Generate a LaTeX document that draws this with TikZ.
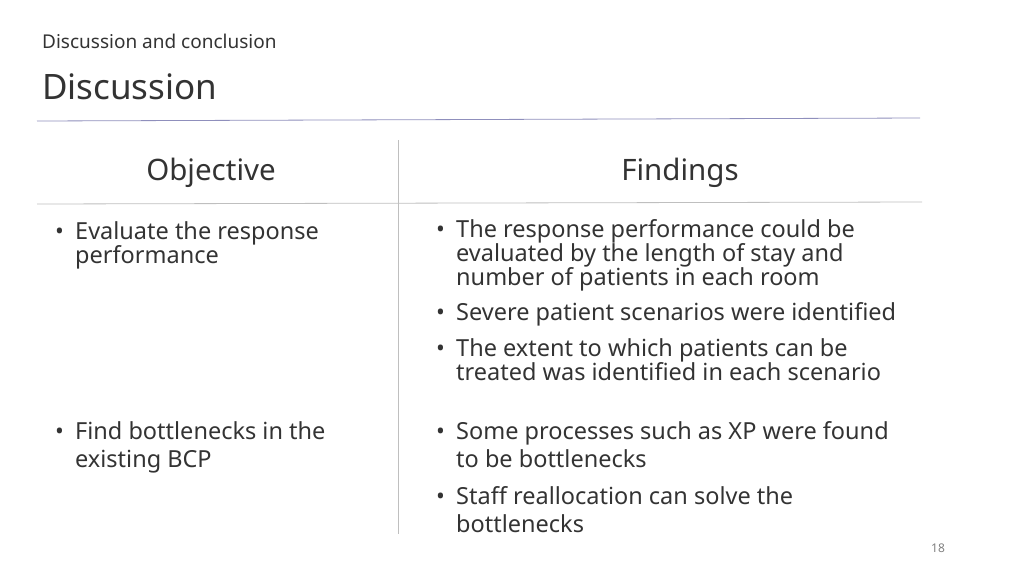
\documentclass[tikz,border=0pt]{standalone}
\usepackage{fontspec}
\setmainfont{Noto Sans}
\begin{document}
\begin{tikzpicture}[x=1pt,y=-1pt,
  txt/.style={anchor=base west,inner sep=0pt,text=black!80,font=\fontsize{23.5}{24}\selectfont,align=left},
  bul/.style={anchor=base west,inner sep=0pt,text=black!80,font=\fontsize{23.5}{24}\selectfont}]
\useasboundingbox (0,0) rectangle (1024,576);
\node[anchor=base west,inner sep=0pt,text=black!80,font=\fontsize{19}{20}\selectfont] (sec) at (42,48) {Discussion and conclusion};
\node[anchor=base west,inner sep=0pt,text=black!80,font=\fontsize{35}{38}\selectfont] (ttl) at (42,99) {Discussion};
\coordinate (l1a) at (37,121); \coordinate (l1b) at (920,118);
\draw[color=blue!25!gray!70,line width=0.8pt] (l1a) -- (l1b);
\coordinate (l2a) at (37,204); \coordinate (l2b) at (922,202);
\draw[color=gray!50,line width=0.8pt] (l2a) -- (l2b);
\coordinate (va) at (398,140); \coordinate (vb) at (398,534);
\draw[color=gray!50,line width=0.8pt] (va) -- (vb);
\node[inner sep=0pt,text=black!80,font=\fontsize{29.5}{30}\selectfont] (h1) at (211,173) {Objective};
\node[inner sep=0pt,text=black!80,font=\fontsize{29.5}{30}\selectfont] (h2) at (680,173) {Findings};
% objective bullets
\node[bul] (b1) at (55,239) {•};
\node[txt] (o1) at (75,263) {Evaluate the response\\performance};
\node[bul] (b2) at (55,439) {•};
\node[txt,font=\fontsize{23.5}{28}\selectfont] (o2) at (75,467) {Find bottlenecks in the\\existing BCP};
% findings
\node[bul] (c1) at (436,237) {•};
\node[txt] (f1) at (456,285) {The response performance could be\\evaluated by the length of stay and\\number of patients in each room};
\node[bul] (c2) at (436,320) {•};
\node[txt] (f2) at (456,320) {Severe patient scenarios were identified};
\node[bul] (c3) at (436,356) {•};
\node[txt] (f3) at (456,380) {The extent to which patients can be\\treated was identified in each scenario};
\node[bul] (c4) at (436,439) {•};
\node[txt,font=\fontsize{23.5}{28}\selectfont] (f4) at (456,467) {Some processes such as XP were found\\to be bottlenecks};
\node[bul] (c5) at (436,504) {•};
\node[txt,font=\fontsize{23.5}{28}\selectfont] (f5) at (456,532) {Staff reallocation can solve the\\bottlenecks};
\node[inner sep=0pt,text=black!50,font=\fontsize{12}{12}\selectfont] (pg) at (938,548) {18};
\end{tikzpicture}
\end{document}
